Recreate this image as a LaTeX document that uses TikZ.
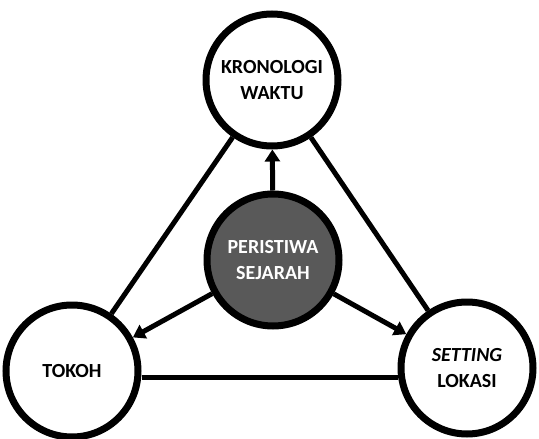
\documentclass[tikz,border=0pt]{standalone}
\usepackage{fontspec}
\setmainfont{Carlito}
\font\tebal="Carlito/B" at 20pt
\font\tebalmiring="Carlito/BI" at 20pt
\newcommand\hurufnode{\tebal\baselineskip=26pt\relax}
\usepackage{tikz}
\usetikzlibrary{positioning, arrows.meta}
\definecolor{pusat}{HTML}{595959}
\begin{document}
\begin{tikzpicture}[x=1pt, y=-1pt,
    lingkaran/.style={circle, draw, line width=7pt, minimum size=132pt, inner sep=0pt,
        align=center, font=\hurufnode, fill=white},
    garis/.style={line width=5pt},
    panah/.style={garis, -{Triangle[length=12pt, width=15pt]}}]
    \useasboundingbox (0,0) rectangle (539,439);

    \node[lingkaran] (kronologi) at (272,80) {KRONOLOGI\\WAKTU};
    \node[lingkaran, fill=pusat, text=white] (peristiwa) at (273,260) {PERISTIWA\\SEJARAH};
    \node[lingkaran] (tokoh) at (72,371) {TOKOH};
    \node[lingkaran] (setting) at (467,368) {{\tebalmiring SETTING}\\LOKASI};

    \draw[garis] (kronologi) -- (tokoh);
    \draw[garis] (kronologi) -- (setting);
    \draw[garis] ([yshift=-6pt]tokoh.east) -- ([yshift=-9pt]setting.west);

    \draw[panah] (peristiwa) -- (kronologi);
    \draw[panah] (peristiwa) -- (tokoh);
    \draw[panah] (peristiwa) -- (setting);
\end{tikzpicture}
\end{document}
